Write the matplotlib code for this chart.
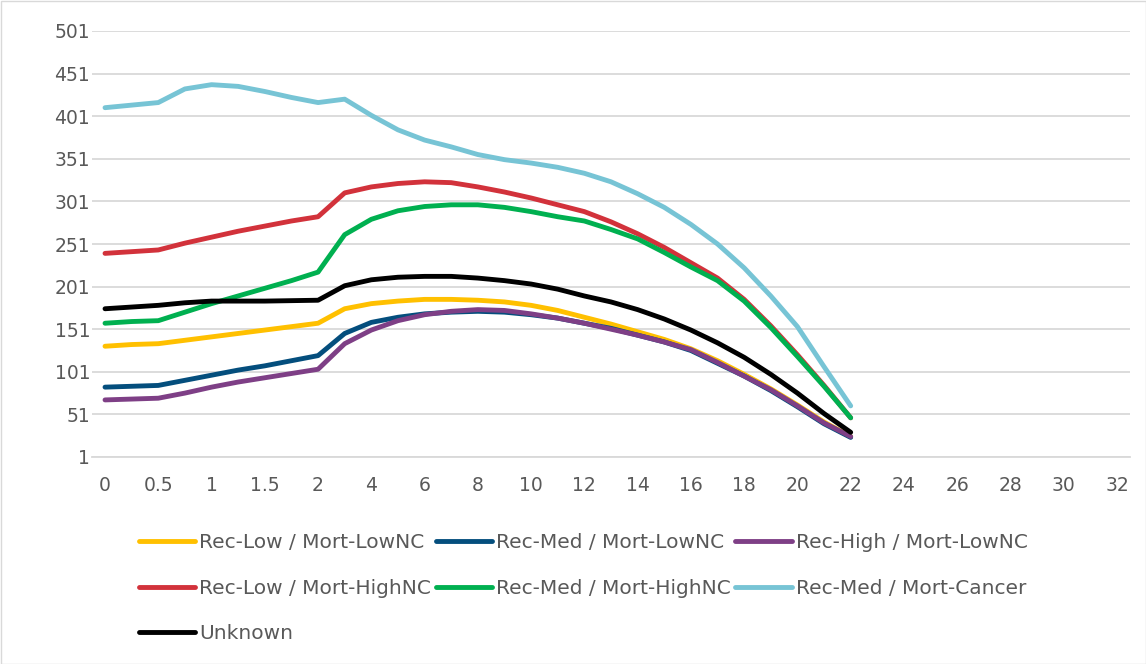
import matplotlib
matplotlib.use("Agg")
import matplotlib.pyplot as plt
from matplotlib.patches import Rectangle

plt.rcParams['font.family'] = ['DejaVu Sans']

# category axis (labels shown every other category)
categories = ['0', '0.25', '0.5', '0.75', '1', '1.25', '1.5', '1.75', '2',
              '3', '4', '5', '6', '7', '8', '9', '10', '11', '12', '13', '14',
              '15', '16', '17', '18', '19', '20', '21', '22', '23', '24', '25',
              '26', '27', '28', '29', '30', '31', '32']

rec_low_lownc = [131, 133, 134, 138, 142, 146, 150, 154, 158,
                 175, 181, 184, 186, 186, 185, 183, 179, 173, 165,
                 157, 148, 139, 128, 114, 98, 81, 62, 42, 25]
rec_med_lownc = [83, 84, 85, 91, 97, 103, 108, 114, 120,
                 146, 159, 165, 169, 171, 172, 171, 168, 164, 158,
                 152, 144, 136, 126, 111, 96, 79, 60, 40, 24]
rec_high_lownc = [68, 69, 70, 76, 83, 89, 94, 99, 104,
                  134, 150, 161, 168, 172, 174, 173, 169, 164, 158,
                  151, 144, 136, 127, 112, 96, 80, 61, 41, 25]
rec_low_highnc = [240, 242, 244, 252, 259, 266, 272, 278, 283,
                  311, 318, 322, 324, 323, 318, 312, 305, 297, 289,
                  277, 263, 247, 229, 211, 186, 155, 121, 85, 47]
rec_med_highnc = [158, 160, 161, 171, 181, 190, 199, 208, 218,
                  262, 280, 290, 295, 297, 297, 294, 289, 283, 278,
                  268, 257, 241, 224, 208, 184, 153, 119, 84, 47]
rec_med_cancer = [411, 414, 417, 433, 438, 436, 430, 423, 417,
                  421, 402, 385, 373, 365, 356, 350, 346, 341, 334,
                  324, 310, 294, 274, 251, 223, 190, 154, 107, 61]
unknown = [175, 177, 179, 182, 184, 184, 184, 184.5, 185,
           202, 209, 212, 213, 213, 211, 208, 204, 198, 190,
           183, 174, 163, 150, 135, 118, 98, 76, 52, 30]

series = [
    ("Rec-Low / Mort-LowNC", rec_low_lownc, "#FFC000"),
    ("Rec-Med / Mort-LowNC", rec_med_lownc, "#044E7D"),
    ("Rec-High / Mort-LowNC", rec_high_lownc, "#7E3F86"),
    ("Rec-Low / Mort-HighNC", rec_low_highnc, "#D2323B"),
    ("Rec-Med / Mort-HighNC", rec_med_highnc, "#00B050"),
    ("Rec-Med / Mort-Cancer", rec_med_cancer, "#77C4D5"),
    ("Unknown", unknown, "#000000"),
]

fig = plt.figure(figsize=(11.46, 6.64), dpi=100)
ax = fig.add_axes([91.7 / 1146, 1 - 457 / 664, 1038.6 / 1146, 426 / 664])

lines = {}
for name, vals, color in series:
    ln, = ax.plot(range(len(vals)), vals, color=color, lw=3.5,
                  solid_joinstyle='round', solid_capstyle='round',
                  label=name)
    lines[name] = ln

ax.set_xlim(-0.5, len(categories) - 0.5)
ax.set_ylim(1, 501)
ax.set_yticks(range(1, 502, 50))
ax.set_xticks(range(0, len(categories), 2))
ax.set_xticklabels(categories[::2])
ax.grid(axis='y', color='#D9D9D9', lw=1.3)
ax.set_axisbelow(True)
for s in ['top', 'right', 'left']:
    ax.spines[s].set_visible(False)
ax.spines['bottom'].set_color('#D9D9D9')
ax.spines['bottom'].set_linewidth(1.3)
ax.tick_params(length=0, labelsize=13.5, colors='#595959')
ax.tick_params(axis='x', pad=14)
ax.tick_params(axis='y', pad=1)

order = ["Rec-Low / Mort-LowNC", "Rec-Low / Mort-HighNC", "Unknown",
         "Rec-Med / Mort-LowNC", "Rec-Med / Mort-HighNC",
         "Rec-High / Mort-LowNC", "Rec-Med / Mort-Cancer"]
leg = fig.legend([lines[n] for n in order], order, ncol=3, frameon=False,
                 loc='upper left', bbox_to_anchor=(139 / 1146, 1 - 533 / 664),
                 borderpad=0, borderaxespad=0, fontsize=14.5,
                 handlelength=2.8, handletextpad=0.2, columnspacing=0.22,
                 labelspacing=1.32)
for t in leg.get_texts():
    t.set_color('#595959')

fig.patches.append(Rectangle((0.5 / 1146, 0.5 / 664), 1 - 1 / 1146, 1 - 1 / 664,
                             transform=fig.transFigure, fill=False,
                             edgecolor='#D9D9D9', lw=1))

fig.savefig("out.png", dpi=100)
